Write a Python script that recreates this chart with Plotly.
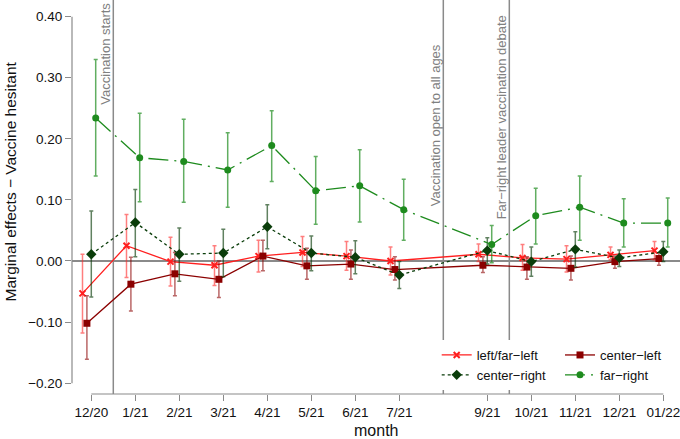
import plotly.graph_objects as go

# ---- data ----
month_labels = ["12/20", "1/21", "2/21", "3/21", "4/21", "5/21", "6/21", "7/21",
                "9/21", "10/21", "11/21", "12/21", "01/22"]

left_far_left = [-0.053, 0.025, -0.001, -0.007, 0.008, 0.014, 0.008, 0.000, 0.011, 0.005, 0.003, 0.010, 0.017]
left_far_left_lo = [-0.118, -0.027, -0.041, -0.040, -0.018, -0.009, -0.015, -0.023, -0.001, -0.015, -0.018, 0.002, 0.002]
left_far_left_hi = [0.011, 0.076, 0.039, 0.025, 0.034, 0.040, 0.032, 0.023, 0.028, 0.027, 0.025, 0.023, 0.032]

center_left = [-0.102, -0.038, -0.021, -0.030, 0.008, -0.008, -0.005, -0.014, -0.007, -0.010, -0.012, -0.001, 0.004]
center_left_lo = [-0.161, -0.082, -0.057, -0.060, -0.016, -0.030, -0.030, -0.031, -0.019, -0.030, -0.031, -0.012, -0.007]
center_left_hi = [-0.057, 0.006, 0.014, 0.000, 0.034, 0.021, 0.018, 0.007, 0.007, 0.007, 0.008, 0.008, 0.013]

center_right = [0.011, 0.063, 0.011, 0.013, 0.056, 0.013, 0.006, -0.023, 0.017, -0.001, 0.019, 0.005, 0.015]
center_right_lo = [-0.059, 0.007, -0.033, -0.026, 0.020, -0.016, -0.021, -0.045, -0.005, -0.025, -0.010, -0.009, -0.001]
center_right_hi = [0.082, 0.117, 0.054, 0.052, 0.092, 0.041, 0.033, -0.001, 0.038, 0.023, 0.048, 0.018, 0.032]

far_right = [0.234, 0.169, 0.163, 0.149, 0.189, 0.115, 0.123, 0.084, 0.027, 0.074, 0.088, 0.062, 0.062]
far_right_lo = [0.139, 0.097, 0.096, 0.088, 0.130, 0.060, 0.064, 0.034, -0.003, 0.028, 0.034, 0.023, 0.023]
far_right_hi = [0.330, 0.242, 0.232, 0.210, 0.246, 0.171, 0.182, 0.134, 0.058, 0.119, 0.139, 0.102, 0.103]

events = ["Vaccination starts", "Vaccination open to all ages", "Far\u2212right leader vaccination debate"]
event_months = [0.5, 8, 9.5]  # months since 12/20

y_ticks = [0.4, 0.3, 0.2, 0.1, 0.0, -0.1, -0.2]


def month_index(lbl):
    m, y = lbl.split("/")
    return (2000 + int(y) - 2020) * 12 + int(m) - 12


xpos = [month_index(l) for l in month_labels]

FONT = "Liberation Sans, Arial, sans-serif"
GRAY = "#8a8a8a"

series = [
    ("left/far\u2212left", left_far_left, left_far_left_lo, left_far_left_hi, -0.2,
     "#ff1f1f", "rgba(255,40,40,0.6)", "solid",
     dict(symbol="x-thin", size=6, line=dict(width=2, color="#ff1f1f")), "legend"),
    ("center\u2212left", center_left, center_left_lo, center_left_hi, -0.1,
     "#8b0000", "rgba(139,0,0,0.6)", "solid",
     dict(symbol="square", size=7, color="#8b0000"), "legend2"),
    ("center\u2212right", center_right, center_right_lo, center_right_hi, 0.0,
     "#0a3d0a", "rgba(10,61,10,0.65)", "3px,3px",
     dict(symbol="diamond", size=8, color="#0a3d0a"), "legend"),
    ("far\u2212right", far_right, far_right_lo, far_right_hi, 0.1,
     "#1e8b1e", "rgba(30,139,30,0.7)", "20px,6px,2px,6px",
     dict(symbol="circle", size=7, color="#1e8b1e"), "legend2"),
]

fig = go.Figure()
for name, vals, lo, hi, off, col, ecol, dash, marker, leg in series:
    fig.add_trace(go.Scatter(
        x=[p + off for p in xpos], y=vals, name=name, mode="lines+markers",
        line=dict(color=col, width=1.3, dash=dash),
        marker=marker,
        error_y=dict(type="data", symmetric=False,
                     array=[h - v for h, v in zip(hi, vals)],
                     arrayminus=[v - l for v, l in zip(vals, lo)],
                     color=ecol, thickness=1.5, width=2),
        legend=leg,
    ))

shapes = []
for ex in event_months:
    shapes.append(dict(type="line", xref="x", yref="paper", x0=ex, x1=ex, y0=0, y1=1,
                       line=dict(color=GRAY, width=1.5), layer="below"))
# axis lines (R-style, spanning tick range only)
shapes.append(dict(type="line", xref="paper", yref="y", x0=0, x1=0, y0=min(y_ticks), y1=max(y_ticks),
                   line=dict(color=GRAY, width=1.2)))
shapes.append(dict(type="line", xref="x", yref="paper", x0=min(xpos), x1=max(xpos), y0=0, y1=0,
                   line=dict(color=GRAY, width=1.2)))

ann_y = [54, 125.5, 117.5]  # px from top
annotations = []
for t, ex, py in zip(events, event_months, ann_y):
    annotations.append(dict(text=t, x=ex, xref="x", xshift=-7.5, xanchor="center",
                            y=1 - py / 394, yref="paper", yanchor="middle",
                            textangle=-90, showarrow=False,
                            font=dict(family=FONT, size=13, color="#808080")))
annotations.append(dict(text="Marginal effects \u2212 Vaccine hesitant", textangle=-90,
                        x=(10 - 72) / 608, xref="paper", xanchor="center",
                        y=1 - 181.5 / 394, yref="paper", yanchor="middle", showarrow=False,
                        font=dict(family=FONT, size=15.5, color="#111")))
annotations.append(dict(text="month", x=0.5, xref="paper", xanchor="center",
                        y=1 - 431 / 394, yref="paper", yanchor="middle", showarrow=False,
                        font=dict(family=FONT, size=16, color="#111")))

fig.update_layout(
    width=680, height=439,
    margin=dict(l=72, r=0, t=0, b=45),
    plot_bgcolor="white", paper_bgcolor="white",
    font=dict(family=FONT, size=13.5, color="#111"),
    showlegend=True,
    legend=dict(x=(436.7 - 72) / 608, xanchor="left", y=1 - 340 / 394, yanchor="top",
                bgcolor="white", font=dict(family=FONT, size=13, color="#111"),
                itemwidth=30, tracegroupgap=0),
    legend2=dict(x=(560 - 72) / 608, xanchor="left", y=1 - 340 / 394, yanchor="top",
                 bgcolor="white", font=dict(family=FONT, size=13, color="#111"),
                 itemwidth=30, tracegroupgap=0),
    xaxis=dict(range=[-0.4386, 13.379], tickmode="array", tickvals=xpos, ticktext=month_labels,
               ticks="outside", ticklen=6, tickcolor=GRAY, tickwidth=1.2,
               showgrid=False, zeroline=False, showline=False, automargin=False,
               ticklabeloverflow="allow",
               tickfont=dict(family=FONT, size=13.5, color="#111")),
    yaxis=dict(range=[-0.2178, 0.4273], tickmode="array", tickvals=y_ticks,
               ticktext=[("\u2212%.2f" % -v) if v < 0 else "%.2f" % v for v in y_ticks],
               ticks="outside", ticklen=6, tickcolor=GRAY, tickwidth=1.2,
               showgrid=False, zeroline=True, zerolinecolor=GRAY, zerolinewidth=1.5,
               showline=False, automargin=False, ticklabeloverflow="allow",
               tickfont=dict(family=FONT, size=13.5, color="#111")),
    shapes=shapes, annotations=annotations,
)

fig.write_html("out.html", config={"displayModeBar": False},
               post_script="document.body.style.margin='0';")
